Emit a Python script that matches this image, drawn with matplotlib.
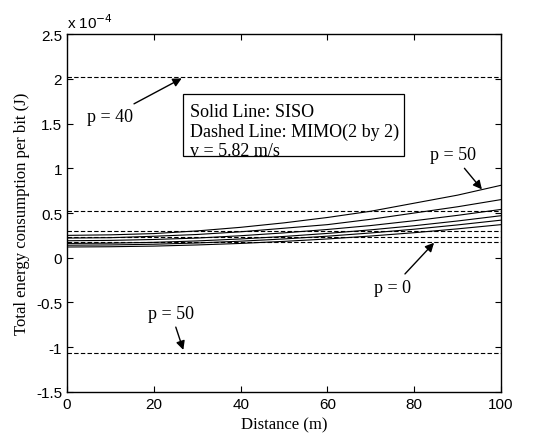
import numpy as np
import matplotlib.pyplot as plt
from matplotlib.patches import Rectangle

# distance (m)
dist = [0, 10, 20, 30, 40, 50, 60, 70, 80, 90, 100]

# SISO energy per bit (x 1e-4 J), solid lines, p = 0 ... 50
siso_p0 = [0.12, 0.123, 0.13, 0.143, 0.16, 0.183, 0.21, 0.243, 0.28, 0.323, 0.37]
siso_p10 = [0.14, 0.143, 0.151, 0.165, 0.185, 0.21, 0.241, 0.277, 0.319, 0.367, 0.42]
siso_p20 = [0.16, 0.163, 0.172, 0.188, 0.21, 0.238, 0.272, 0.312, 0.358, 0.411, 0.47]
siso_p30 = [0.19, 0.194, 0.204, 0.22, 0.246, 0.278, 0.316, 0.36, 0.414, 0.474, 0.54]
siso_p40 = [0.22, 0.224, 0.24, 0.26, 0.29, 0.33, 0.37, 0.43, 0.50, 0.57, 0.65]
siso_p50 = [0.25, 0.256, 0.27, 0.30, 0.34, 0.39, 0.45, 0.52, 0.61, 0.70, 0.81]

# MIMO (2 by 2) energy per bit (x 1e-4 J), dashed, constant with distance
mimo_p = [0, 10, 20, 30, 40, 50]
mimo_val = [0.18, 0.23, 0.30, 0.52, 2.02, -1.07]

plt.rcParams['font.family'] = ['Liberation Sans', 'DejaVu Sans']

fig = plt.figure(figsize=(5.47, 4.39), dpi=100)
ax = fig.add_axes([0.1225, 0.105, 0.7935, 0.815])

for s in [siso_p0, siso_p10, siso_p20, siso_p30, siso_p40, siso_p50]:
    ax.plot(dist, s, color='black', lw=0.8)
for v in mimo_val:
    ax.plot([dist[0], dist[-1]], [v, v], color='black', lw=0.8, ls=(0, (4, 2)))

ax.set_xlim(0, 100)
ax.set_ylim(-1.5, 2.5)
ax.set_xticks([0, 20, 40, 60, 80, 100])
ax.set_yticks([-1.5, -1, -0.5, 0, 0.5, 1, 1.5, 2, 2.5])
ax.set_yticklabels(['-1.5', '-1', '-0.5', '0', '0.5', '1', '1.5', '2', '2.5'])
ax.tick_params(direction='in', top=True, right=True, labelsize=11, length=4)
for sp in ax.spines.values():
    sp.set_linewidth(1.0)

serif = 'Liberation Serif'
ax.set_xlabel('Distance (m)', family=serif, fontsize=12)
ax.set_ylabel('Total energy consumption per bit (J)', family=serif, fontsize=12)
ax.text(0.0, 1.01, r'x 10$^{-4}$', transform=ax.transAxes, fontsize=11,
        ha='left', va='bottom')

# legend-like box (third line sits on the lower edge, as in the original)
ax.add_patch(Rectangle((26.7, 1.14), 50.9, 0.69, fc='white', ec='black',
                       lw=0.9, zorder=3))
ax.text(28.3, 1.64, 'Solid Line: SISO', family=serif, fontsize=13,
        va='center', zorder=4)
ax.text(28.3, 1.41, 'Dashed Line: MIMO(2 by 2)', family=serif, fontsize=13,
        va='center', zorder=4)
ax.text(28.3, 1.15, 'v = 5.82 m/s', family=serif, fontsize=13,
        va='baseline', zorder=4)

arrow = dict(arrowstyle='-|>', color='black', lw=1.0, mutation_scale=13)
ax.annotate('p = 40', xy=(27, 2.02), xytext=(10, 1.58), family=serif,
            fontsize=13, ha='center', va='center', arrowprops=arrow)
ax.annotate('p = 50', xy=(96, 0.74), xytext=(89, 1.15), family=serif,
            fontsize=13, ha='center', va='center', arrowprops=arrow)
ax.annotate('p = 0', xy=(85, 0.19), xytext=(75, -0.33), family=serif,
            fontsize=13, ha='center', va='center', arrowprops=arrow)
ax.annotate('p = 50', xy=(27, -1.06), xytext=(24, -0.62), family=serif,
            fontsize=13, ha='center', va='center', arrowprops=arrow)

fig.savefig('out.png', dpi=100)
